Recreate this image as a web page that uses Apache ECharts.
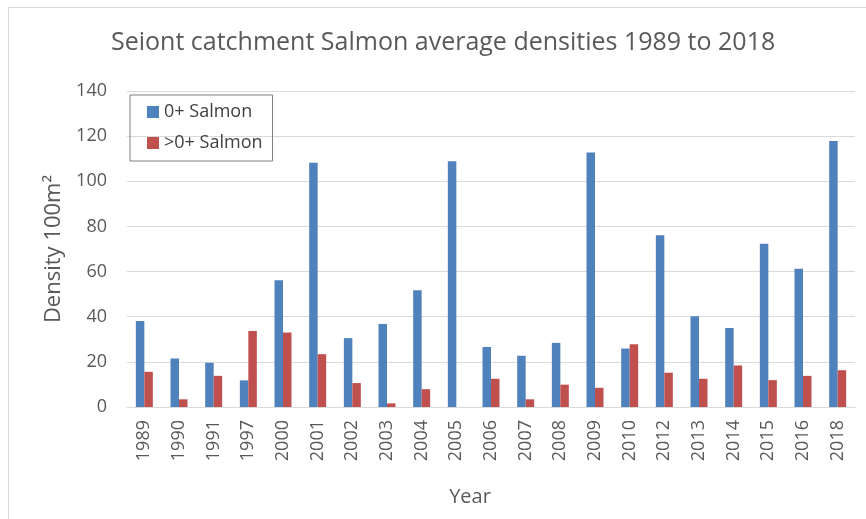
<!DOCTYPE html>
<html>
<head>
<meta charset="utf-8">
<script src="https://cdn.jsdelivr.net/npm/echarts@6/dist/echarts.min.js"></script>
<style>
html,body{margin:0;padding:0;background:#fff;overflow:hidden;}
#frame{position:absolute;left:8px;top:7px;width:900px;height:560px;border:1px solid #d9d9d9;}
#chart{position:absolute;left:0;top:0;width:866px;height:519px;}
</style>
</head>
<body>
<div id="frame"></div>
<div id="chart"></div>
<script>
const years = ['1989','1990','1991','1997','2000','2001','2002','2003','2004','2005','2006','2007','2008','2009','2010','2012','2013','2014','2015','2016','2018'];
const salmon0 = [38.1,21.5,19.6,11.8,56.2,108.2,30.5,36.8,51.7,108.9,26.6,22.7,28.4,112.8,25.9,76.1,40.2,35.0,72.3,61.2,117.9];
const salmonGt0 = [15.6,3.4,13.8,33.7,33.0,23.4,10.6,1.6,7.9,0,12.5,3.4,9.9,8.5,27.8,15.2,12.5,18.4,11.9,13.8,16.3];
const yTicks = [0,20,40,60,80,100,120,140];

const font = 'Open Sans';
const chart = echarts.init(document.getElementById('chart'));
chart.setOption({
  backgroundColor: 'transparent',
  animation: false,
  title: {
    text: 'Seiont catchment Salmon average densities 1989 to 2018',
    left: 106, top: 25,
    textStyle: {fontFamily: font, fontSize: 25, fontWeight: 'normal', color: '#595959'}
  },
  legend: {
    orient: 'vertical',
    left: 130, top: 95,
    padding: [8, 10, 9, 17],
    itemGap: 13,
    itemWidth: 12, itemHeight: 12,
    itemTextGap: 4,
    borderColor: '#808080', borderWidth: 1,
    icon: 'rect',
    textStyle: {fontFamily: font, fontSize: 18, color: '#404040'},
    data: ['0+ Salmon', '>0+ Salmon']
  },
  grid: {left: 127, right: 11, top: 91, bottom: 112},
  xAxis: {
    type: 'category',
    data: years,
    axisLine: {lineStyle: {color: '#d9d9d9'}},
    axisTick: {show: false},
    axisLabel: {rotate: 90, fontFamily: font, fontSize: 18, color: '#595959', margin: 13, interval: 0},
    name: 'Year', nameLocation: 'middle', nameGap: 80,
    nameTextStyle: {fontFamily: font, fontSize: 20, color: '#595959', padding: [0, 42, 0, 0]}
  },
  yAxis: {
    type: 'value', min: 0, max: 140, interval: 20,
    axisLine: {show: false}, axisTick: {show: false},
    splitLine: {lineStyle: {color: '#d9d9d9'}},
    axisLabel: {fontFamily: font, fontSize: 18, color: '#595959', margin: 20,
      formatter: v => yTicks.includes(v) ? String(v) : ''},
    name: 'Density 100m²', nameLocation: 'middle', nameGap: 62,
    nameTextStyle: {fontFamily: font, fontSize: 22, color: '#595959'}
  },
  series: [
    {name: '0+ Salmon', type: 'bar', data: salmon0, itemStyle: {color: '#4F81BD'}, barGap: '0%', barCategoryGap: '51%'},
    {name: '>0+ Salmon', type: 'bar', data: salmonGt0, itemStyle: {color: '#C0504D'}, barGap: '0%', barCategoryGap: '51%'}
  ]
});
</script>
</body>
</html>
